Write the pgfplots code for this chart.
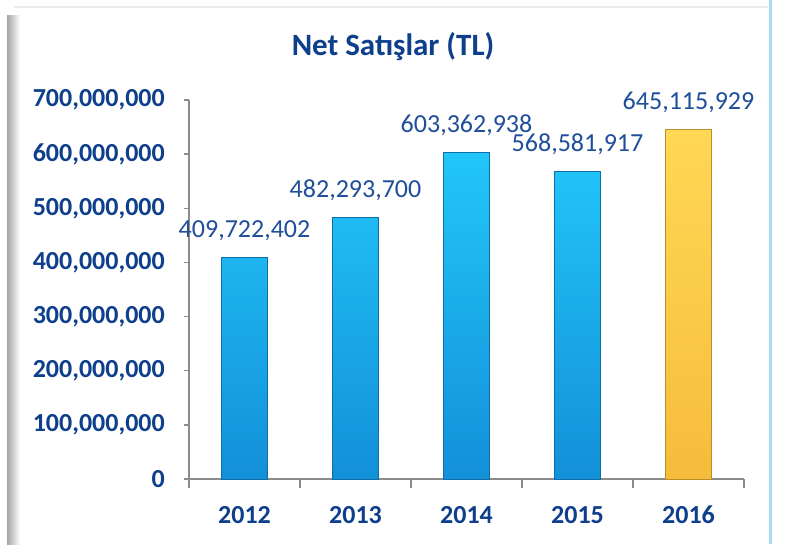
\documentclass[border=0pt]{standalone}
\usepackage{pgfplots}
\pgfplotsset{compat=1.18}
\usepackage{fontspec}
\setmainfont{Carlito}
\definecolor{titleblue}{HTML}{0E3F8C}
\definecolor{valblue}{HTML}{1F4E9A}
\definecolor{barTop}{HTML}{22C6FA}
\definecolor{barBot}{HTML}{1390D8}
\definecolor{barEdge}{HTML}{0E6EA8}
\definecolor{yelTop}{HTML}{FFD855}
\definecolor{yelBot}{HTML}{F6BC3C}
\definecolor{yelEdge}{HTML}{B8902A}
\definecolor{axisgray}{HTML}{8C8C8C}
\definecolor{frameblue}{HTML}{A9DBF7}
\pgfplotstableread{
x y lab
0 409722402 409,722,402
1 482293700 482,293,700
2 603362938 603,362,938
3 568581917 568,581,917
4 645115929 645,115,929
}\alldata
\pgfplotstableread{
x y
0 409722402
1 482293700
2 603362938
3 568581917
}\bluedata
\pgfplotstableread{
x y
4 645115929
}\yellowdata
\begin{document}
\begin{tikzpicture}[x=1pt,y=1pt]
\fill[white] (0,0) rectangle (787,544);
\shade[left color=black!35, right color=white] (7,0) rectangle (20,528);
\fill[black!8] (14,536) rectangle (768,537.5);
\fill[frameblue] (769,0) rectangle (772,544);
\node[font=\fontsize{31}{35}\selectfont\bfseries, text=titleblue] at (393,497) {Net Satışlar (TL)};
\begin{axis}[
  at={(189pt,65pt)}, anchor=south west,
  scale only axis, width=555pt, height=379pt,
  xmin=-0.5, xmax=4.5, ymin=0, ymax=700000000,
  axis x line=bottom, axis y line=left,
  axis line style={draw=axisgray, line width=1.3pt, -},
  tick align=outside,
  tick style={draw=axisgray, line width=1.3pt},
  major tick length=5pt,
  minor tick length=9pt,
  xtick={0,1,2,3,4},
  xticklabels={2012,2013,2014,2015,2016},
  major x tick style={draw=none},
  minor xtick={-0.5,0.5,1.5,2.5,3.5,4.5},
  ytick={0,100000000,200000000,300000000,400000000,500000000,600000000,700000000},
  scaled y ticks=false,
  yticklabel style={font=\fontsize{26}{30}\selectfont\bfseries, text=titleblue, inner sep=0pt, anchor=east, xshift=-19pt,
    /pgf/number format/.cd, fixed, precision=0, 1000 sep={,}, assume math mode=true},
  xticklabel style={font=\fontsize{26}{30}\selectfont\bfseries, text=titleblue, inner sep=0pt, anchor=north, yshift=-22pt},
  clip=false,
]
\addplot[ybar, bar width=46pt, bar shift=0pt, top color=barTop, bottom color=barBot, draw=barEdge, line width=0.8pt] table[x=x,y=y] {\bluedata};
\addplot[ybar, bar width=46pt, bar shift=0pt, top color=yelTop, bottom color=yelBot, draw=yelEdge, line width=0.8pt] table[x=x,y=y] {\yellowdata};
\addplot[draw=none, mark=none, nodes near coords, point meta=explicit symbolic,
  nodes near coords style={font=\fontsize{26}{30}\selectfont, text=valblue, anchor=base, inner sep=0pt, yshift=20pt}]
  table[x=x,y=y,meta=lab] {\alldata};
\end{axis}
\pgfresetboundingbox
\path[use as bounding box] (0,0) rectangle (787,544);
\end{tikzpicture}
\end{document}
